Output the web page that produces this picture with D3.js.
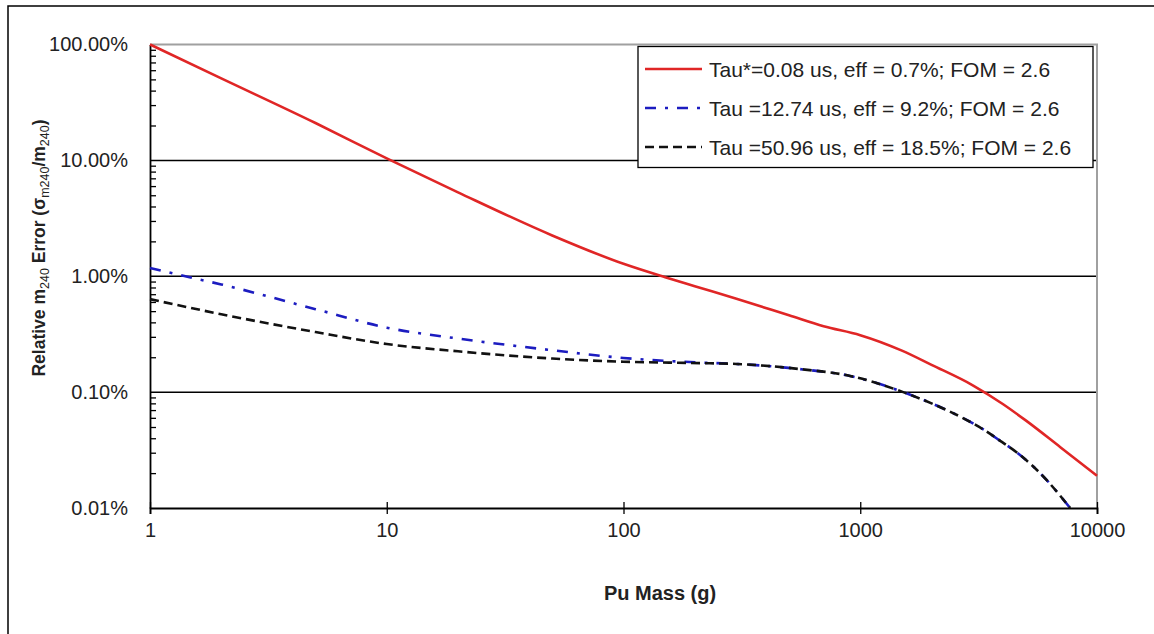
<!DOCTYPE html>
<html>
<head>
<meta charset="utf-8">
<script src="https://cdn.jsdelivr.net/npm/d3@7"></script>
<style>
  body { margin: 0; background: #fff; }
  svg { font-family: "Liberation Sans", Arial, sans-serif; }
</style>
</head>
<body>
<svg id="chart" width="1154" height="634"></svg>
<script>
// values in percent
const seriesNames = [
    'Tau*=0.08 us, eff = 0.7%; FOM = 2.6',
    'Tau =12.74 us, eff = 9.2%; FOM = 2.6',
    'Tau =50.96 us, eff = 18.5%; FOM = 2.6'
];
const redMass = [1, 2, 5, 10, 20, 50, 100, 150, 200, 300, 500, 700, 1000, 1500, 2000, 3000, 4000, 5000, 7000, 10000];
const redErr  = [100, 51, 21, 10.4, 5.3, 2.25, 1.28, 0.98, 0.82, 0.64, 0.46, 0.37, 0.31, 0.228, 0.172, 0.114, 0.079, 0.057, 0.0335, 0.019];
const blueMass = [1, 1.5, 2, 5, 10, 20, 50, 100, 211, 300, 557, 906, 1518, 2000, 2643, 3400, 3900, 4600, 5750, 7700];
const blueErr  = [1.18, 0.97, 0.85, 0.52, 0.36, 0.29, 0.23, 0.197, 0.18, 0.175, 0.158, 0.138, 0.1, 0.08, 0.0615, 0.046, 0.038, 0.03, 0.02, 0.01];
const blackMass = [1, 2, 5, 10, 20, 50, 100, 211, 300, 557, 906, 1518, 2000, 2643, 3400, 3900, 4600, 5750, 7700];
const blackErr  = [0.634, 0.47, 0.33, 0.26, 0.225, 0.195, 0.183, 0.178, 0.175, 0.158, 0.138, 0.1, 0.08, 0.0615, 0.046, 0.038, 0.03, 0.02, 0.01];
const xTicks = [1, 10, 100, 1000, 10000];
const xTickLabels = ['1', '10', '100', '1000', '10000'];
const yTicks = [0.01, 0.1, 1, 10, 100];
const yTickLabels = ['0.01%', '0.10%', '1.00%', '10.00%', '100.00%'];

const svg = d3.select('#chart');
const plotL = 150, plotR = 1097, plotT = 44.5, plotB = 508;

const x = d3.scaleLog().domain([1, 10000]).range([plotL, plotR]);
const y = d3.scaleLog().domain([0.01, 100]).range([plotB, plotT]);

// outer frame (only top and left edges show)
svg.append('path')
    .attr('d', 'M8,634 L8,6 L1154,6')
    .attr('fill', 'none').attr('stroke', '#000').attr('stroke-width', 1.5);

// gridlines
svg.append('g').selectAll('line').data([0.1, 1, 10]).enter().append('line')
    .attr('x1', plotL).attr('x2', plotR)
    .attr('y1', d => y(d)).attr('y2', d => y(d))
    .attr('stroke', '#000').attr('stroke-width', 1.5);

// plot top / right border (grey)
svg.append('path')
    .attr('d', `M${plotL},${plotT} L${plotR},${plotT} L${plotR},${plotB}`)
    .attr('fill', 'none').attr('stroke', '#a0a0a0').attr('stroke-width', 2);

// minor y ticks inside the plot
const minor = [];
for (let e = -2; e < 2; e++) for (let k = 2; k <= 9; k++) minor.push(k * Math.pow(10, e));
svg.append('g')
    .attr('transform', `translate(${plotL},0)`)
    .call(d3.axisRight(y).tickValues(minor).tickSize(6).tickFormat(''))
    .call(g => g.select('.domain').remove())
    .selectAll('line').attr('stroke', '#000').attr('stroke-width', 1.3);

// y axis
const yAxis = svg.append('g')
    .attr('transform', `translate(${plotL},0)`)
    .call(d3.axisLeft(y).tickValues(yTicks).tickSize(0).tickPadding(22)
        .tickFormat((d, i) => yTickLabels[i]));
yAxis.select('.domain').attr('stroke', '#000').attr('stroke-width', 1.8);
yAxis.selectAll('text').attr('font-size', 20).attr('fill', '#222')
    .attr('font-family', '"Liberation Sans", Arial, sans-serif');

// x axis
const xAxis = svg.append('g')
    .attr('transform', `translate(0,${plotB})`)
    .call(d3.axisBottom(x).tickValues(xTicks).tickSize(6).tickPadding(9)
        .tickFormat((d, i) => xTickLabels[i]));
xAxis.select('.domain').attr('stroke', '#000').attr('stroke-width', 1.8);
xAxis.selectAll('.tick line').attr('y1', -6).attr('stroke', '#000').attr('stroke-width', 1.3);
xAxis.selectAll('text').attr('font-size', 20).attr('fill', '#222')
    .attr('font-family', '"Liberation Sans", Arial, sans-serif');

// series
const line = d3.line()
    .x(d => x(d[0]))
    .y(d => y(d[1]))
    .curve(d3.curveMonotoneX);

const series = [
    {mass: redMass, err: redErr, color: '#e02626', dash: null},
    {mass: blueMass, err: blueErr, color: '#1c1cc0', dash: '11,9,3,9'},
    {mass: blackMass, err: blackErr, color: '#111', dash: '9,5'}
];

series.forEach(s => {
    svg.append('path')
        .datum(s.mass.map((m, i) => [m, s.err[i]]))
        .attr('d', line)
        .attr('fill', 'none')
        .attr('stroke', s.color)
        .attr('stroke-width', 2.6)
        .attr('stroke-dasharray', s.dash);
});

// legend
const lg = svg.append('g');
lg.append('rect')
    .attr('x', 638).attr('y', 46.5).attr('width', 455).attr('height', 121)
    .attr('fill', '#fff').attr('stroke', '#000').attr('stroke-width', 1.3);
const rows = [69, 108, 147];
series.forEach((s, i) => {
    lg.append('line')
        .attr('x1', 645).attr('x2', 702)
        .attr('y1', rows[i]).attr('y2', rows[i])
        .attr('stroke', s.color).attr('stroke-width', 2.6)
        .attr('stroke-dasharray', s.dash);
    lg.append('text')
        .attr('x', 709).attr('y', rows[i]).attr('dy', '0.36em')
        .attr('font-size', 21).attr('fill', '#222')
        .text(seriesNames[i]);
});

// axis titles
svg.append('text')
    .attr('x', 660).attr('y', 593).attr('dy', '0.36em')
    .attr('text-anchor', 'middle')
    .attr('font-size', 20).attr('font-weight', 'bold').attr('fill', '#222')
    .text('Pu Mass (g)');

const yt = svg.append('text')
    .attr('transform', 'translate(45,248) rotate(-90)')
    .attr('text-anchor', 'middle')
    .attr('font-size', 17.5).attr('font-weight', 'bold').attr('fill', '#222');
yt.append('tspan').text('Relative m');
yt.append('tspan').attr('font-size', 12.5).attr('font-weight', 'normal').attr('dy', 4).text('240');
yt.append('tspan').attr('dy', -4).text(' Error (σ');
yt.append('tspan').attr('font-size', 12.5).attr('font-weight', 'normal').attr('dy', 4).text('m240');
yt.append('tspan').attr('dy', -4).text('/m');
yt.append('tspan').attr('font-size', 12.5).attr('font-weight', 'normal').attr('dy', 4).text('240');
yt.append('tspan').attr('dy', -4).text(')');
</script>
</body>
</html>
